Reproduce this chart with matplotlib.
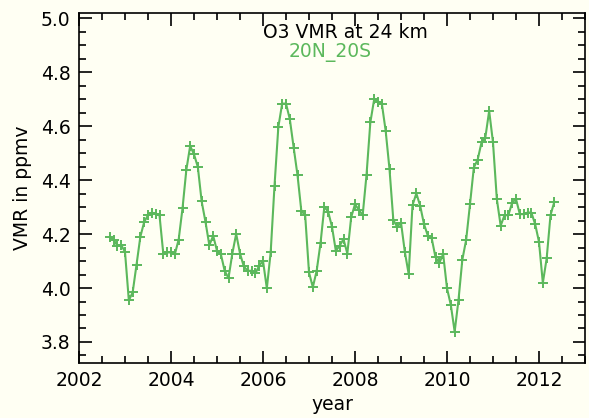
import numpy as np
import matplotlib.pyplot as plt
from matplotlib.ticker import MultipleLocator

# monthly O3 VMR at 24 km, 20N-20S, starting Sep 2002
start_year = 2002
start_month = 9
vmr = [4.19, 4.18, 4.157, 4.16, 4.134, 3.954, 3.984, 4.086, 4.19, 4.245,
       4.27, 4.28, 4.275, 4.27, 4.126, 4.132, 4.132, 4.125, 4.18, 4.295,
       4.438, 4.527, 4.496, 4.449, 4.321, 4.245, 4.159, 4.194, 4.138, 4.126,
       4.064, 4.037, 4.128, 4.201, 4.128, 4.08, 4.064, 4.064, 4.054, 4.083,
       4.101, 3.999, 4.132, 4.379, 4.597, 4.684, 4.684, 4.626, 4.521, 4.419,
       4.286, 4.27, 4.058, 4.003, 4.064, 4.166, 4.301, 4.283, 4.227, 4.138,
       4.157, 4.181, 4.128, 4.262, 4.311, 4.29, 4.27, 4.419, 4.614, 4.70,
       4.691, 4.684, 4.583, 4.441, 4.252, 4.227, 4.243, 4.134, 4.052, 4.307,
       4.351, 4.305, 4.237, 4.194, 4.185, 4.114, 4.093, 4.126, 3.999, 3.937,
       3.838, 3.956, 4.105, 4.179, 4.311, 4.447, 4.476, 4.54, 4.558, 4.657,
       4.54, 4.33, 4.231, 4.27, 4.27, 4.317, 4.33, 4.274, 4.274, 4.28,
       4.28, 4.237, 4.171, 4.019, 4.11, 4.27, 4.32]

years = start_year + (start_month - 1 + np.arange(len(vmr))) / 12.0

bg = '#fffff3'
green = '#5cb85c'

plt.rcParams['font.family'] = 'DejaVu Sans'
fig = plt.figure(figsize=(5.89, 4.18), dpi=100, facecolor=bg)
ax = fig.add_axes([79 / 589, 1 - 363 / 418, 506 / 589, 350 / 418])
ax.set_facecolor(bg)

ax.plot(years, vmr, color=green, linewidth=1.5, marker='+', markersize=6.5,
        markeredgewidth=1.4)

ax.set_xlim(2002, 2013)
ax.set_ylim(3.722, 5.02)
ax.xaxis.set_major_locator(MultipleLocator(2))
ax.xaxis.set_minor_locator(MultipleLocator(0.5))
ax.yaxis.set_major_locator(MultipleLocator(0.2))
ax.yaxis.set_minor_locator(MultipleLocator(0.05))
ax.tick_params(which='both', direction='in', top=True, right=True,
               labelsize=13.5, width=1.2, color='black')
ax.tick_params(which='major', length=9, pad=6)
ax.tick_params(which='minor', length=5)
for s in ax.spines.values():
    s.set_linewidth(1.2)

ax.set_xlabel('year', fontsize=13.5, labelpad=3)
ax.set_ylabel('VMR in ppmv', fontsize=13.5, labelpad=6)

ax.text(0.526, 0.943, 'O3 VMR at 24 km', transform=ax.transAxes,
        ha='center', va='center', fontsize=13.5, color='black')
ax.text(0.496, 0.886, '20N_20S', transform=ax.transAxes,
        ha='center', va='center', fontsize=13.5, color=green)

fig.savefig('out.png', dpi=100, facecolor=bg)
